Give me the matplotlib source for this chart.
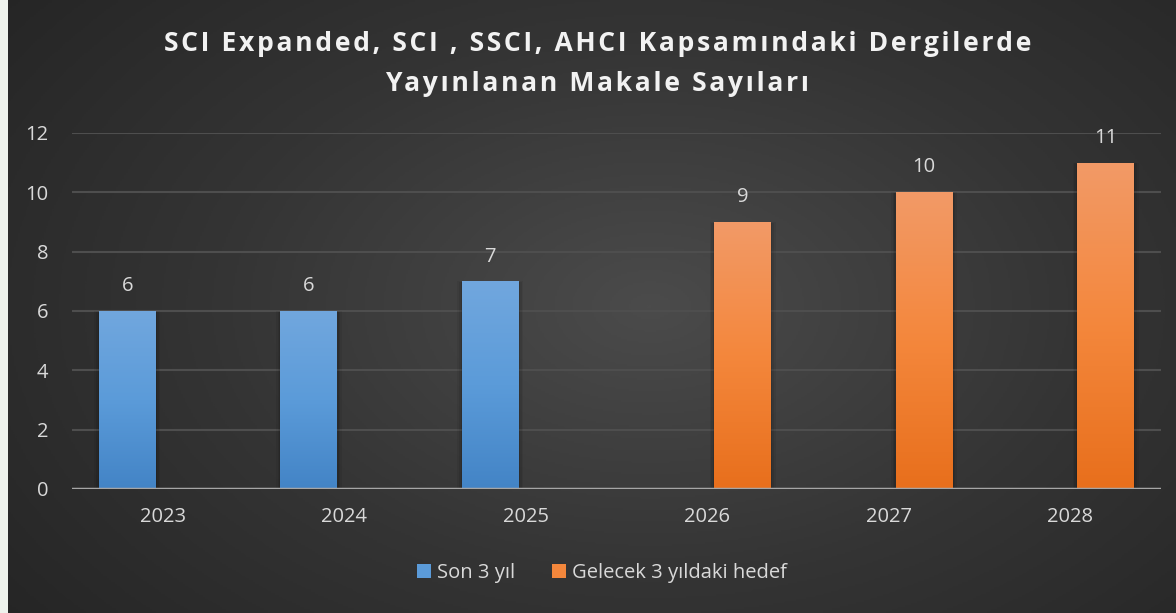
import numpy as np
import matplotlib.pyplot as plt
from matplotlib.colors import LinearSegmentedColormap
from matplotlib.patches import Patch

years = ["2023", "2024", "2025", "2026", "2027", "2028"]
son_3_yil = [6, 6, 7, None, None, None]
gelecek_hedef = [None, None, None, 9, 10, 11]
series_names = ["Son 3 yıl", "Gelecek 3 yıldaki hedef"]
title_lines = ["SCI Expanded, SCI , SSCI, AHCI Kapsamındaki Dergilerde",
               "Yayınlanan Makale Sayıları"]

blue_grad = ["#4384c6", "#5b9bd9", "#71a7de"]
orange_grad = ["#e86f1c", "#f4873c", "#f29a67"]
text_col = "#d9d9d9"

plt.rcParams['font.family'] = ['Open Sans', 'DejaVu Sans']

W, H = 1176, 613
fig = plt.figure(figsize=(W / 100, H / 100), dpi=100)
fig.patch.set_facecolor("#eef2ec")

# radial gradient background
bg = fig.add_axes([8 / W, 0, 1 - 8 / W, 1])
yy, xx = np.mgrid[0:1:300j, 0:1:600j]
r = np.sqrt(((xx - 0.55) / 0.75) ** 2 + ((yy - 0.5) / 0.9) ** 2)
bg_cmap = LinearSegmentedColormap.from_list("bg", ["#4b4b4b", "#343434", "#232323"])
bg.imshow(np.clip(r, 0, 1), cmap=bg_cmap, aspect="auto", extent=[0, 1, 0, 1], vmin=0, vmax=1)
bg.set_axis_off()
bg.set_zorder(-10)

ax = fig.add_axes([72 / W, 1 - 489 / H, (1161 - 72) / W, (489 - 133) / H])
ax.patch.set_alpha(0)

x = np.arange(len(years))
width = 0.314
offset = 0.195


def draw_series(vals, shift, colors):
    cmap = LinearSegmentedColormap.from_list("g", colors)
    grad = np.linspace(0, 1, 256).reshape(-1, 1)
    for xi, v in zip(x, vals):
        if v is None:
            continue
        # soft shadow around the bar
        for k, a in [(0.05, 0.06), (0.03, 0.08), (0.015, 0.1)]:
            ax.bar(xi + shift, v + k, width + k, bottom=-0.05,
                   color="black", alpha=a, zorder=2, linewidth=0)
        bar = ax.bar(xi + shift, v, width, color=colors[1], zorder=3)[0]
        im = ax.imshow(grad, cmap=cmap, aspect="auto", origin="lower",
                       extent=[xi + shift - width / 2, xi + shift + width / 2, 0, v], zorder=4)
        im.set_clip_path(bar)
        ax.text(xi + shift, v + 0.5, str(v), ha="center", va="bottom",
                color=text_col, fontsize=14.5)


draw_series(son_3_yil, -offset, blue_grad)
draw_series(gelecek_hedef, offset, orange_grad)

ax.set_xlim(-0.5, len(years) - 0.5)
ax.set_ylim(0, 12)
ax.set_yticks(range(0, 13, 2))
ax.set_xticks(x)
ax.set_xticklabels(years)
ax.grid(axis="y", color="#4e4e4e", linewidth=1.5, zorder=0)
ax.set_axisbelow(True)
for s in ["top", "right", "left", "bottom"]:
    ax.spines[s].set_visible(False)
ax.axhline(0, color="#a6a6a6", linewidth=2.5, zorder=5)
ax.tick_params(axis="both", length=0, colors=text_col, labelsize=14.5)
ax.tick_params(axis="x", pad=13)
ax.tick_params(axis="y", pad=17)

# title with a little letter spacing (hair spaces)
hair = "\u200a"
for i, line in enumerate(title_lines):
    fig.text(0.508, 1 - (44 + 40 * i) / H, hair.join(line), ha="center", va="center",
             color="#f2f2f2", fontsize=19.1, fontweight="bold")

handles = [Patch(facecolor=blue_grad[1], edgecolor="none"),
           Patch(facecolor=orange_grad[1], edgecolor="none")]
fig.legend(handles, series_names, loc="center", bbox_to_anchor=(0.512, 1 - 573 / H),
           ncol=2, frameon=False, fontsize=14.5, labelcolor=text_col,
           handlelength=0.7, handleheight=0.7, handletextpad=0.3, columnspacing=1.8)

fig.savefig("out.png", dpi=100, facecolor=fig.get_facecolor())
